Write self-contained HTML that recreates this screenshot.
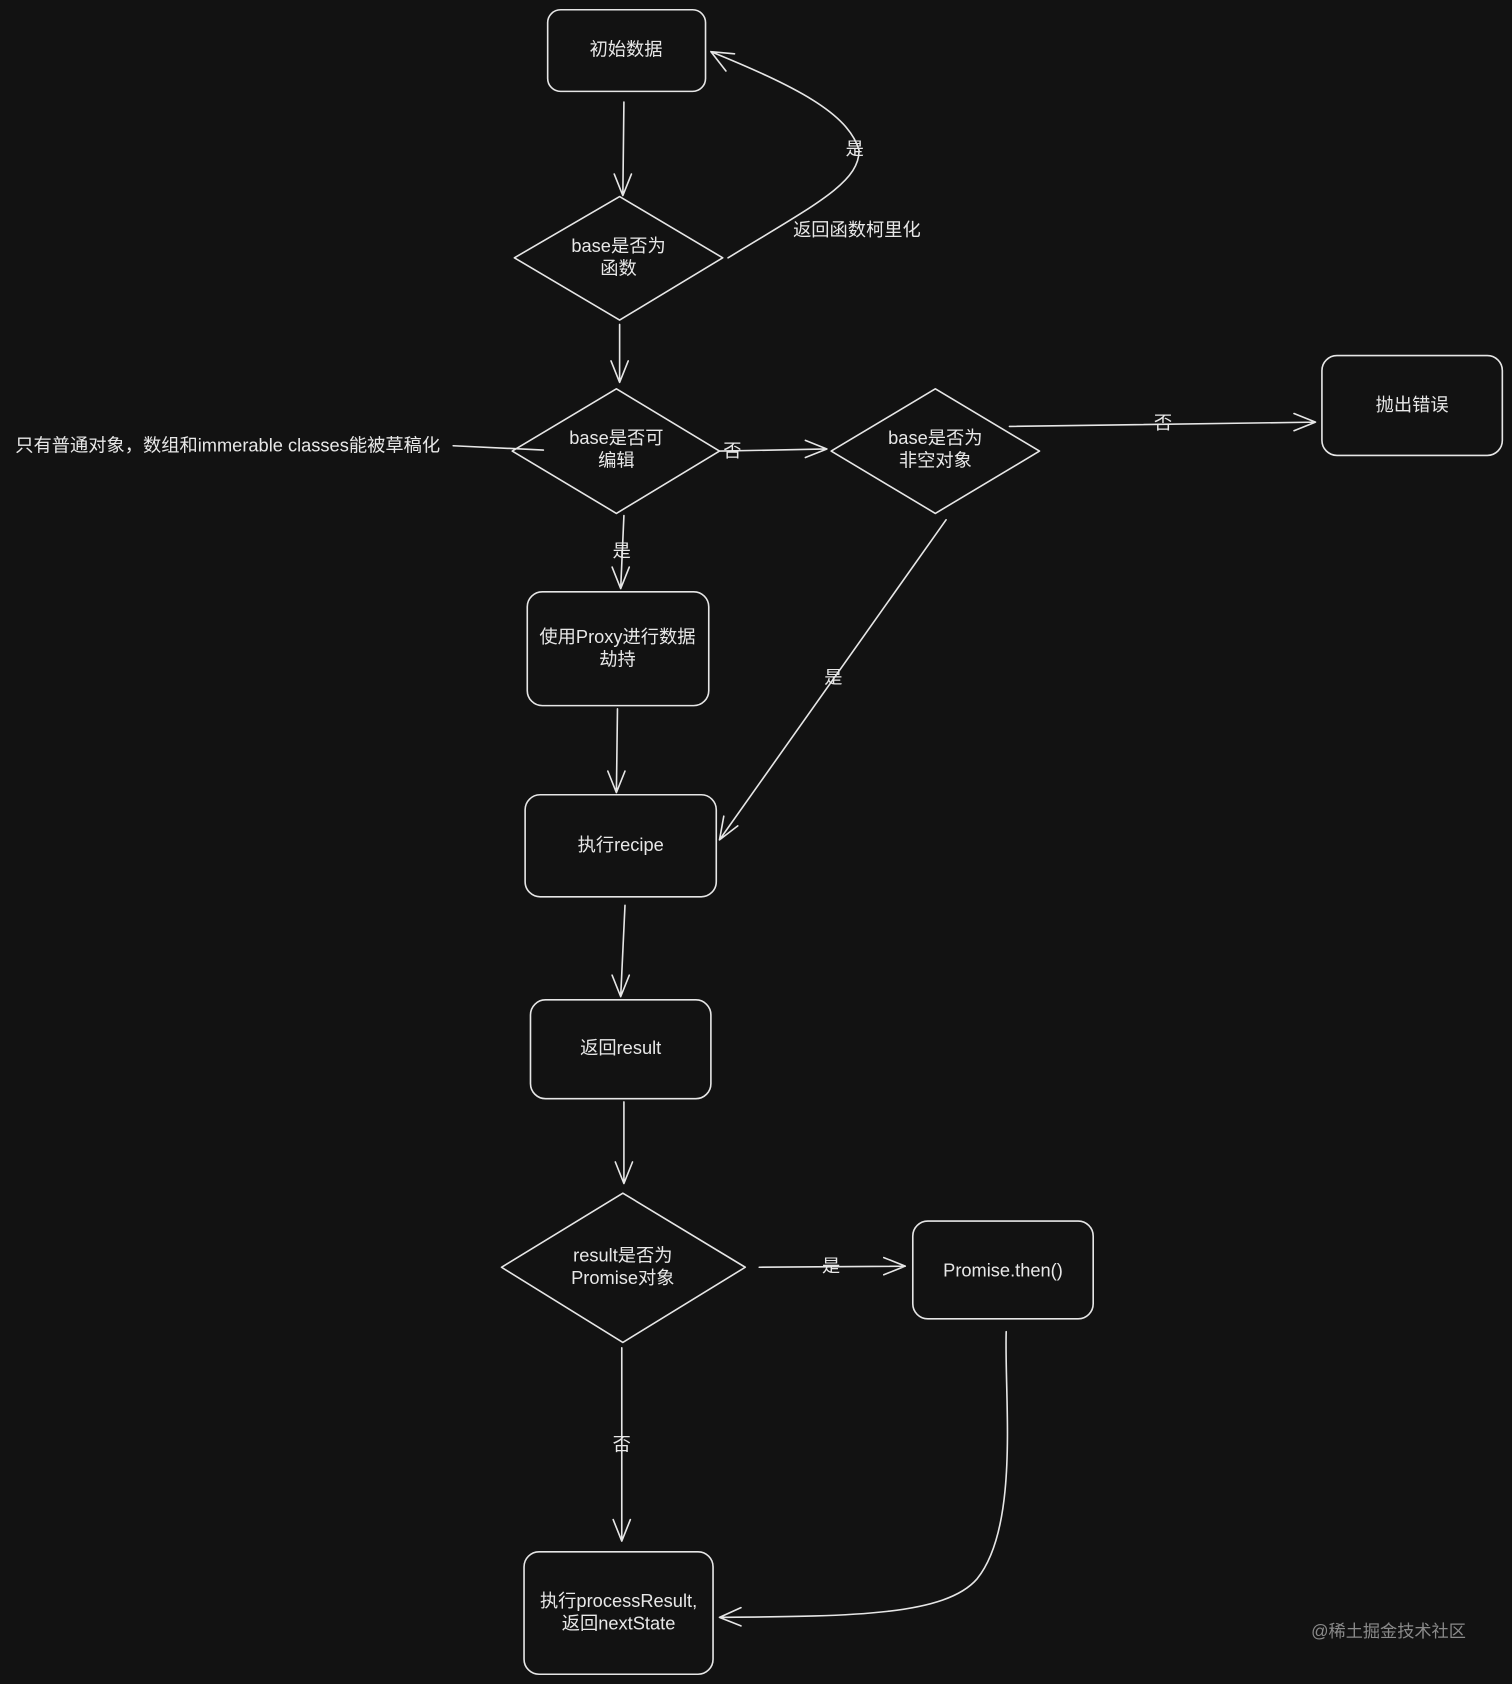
<!DOCTYPE html>
<html><head><meta charset="utf-8"><style>
html,body{margin:0;padding:0;background:#121212;}
svg{display:block}
text{font-family:"Liberation Sans","Noto Sans CJK SC",sans-serif;fill:#e8e8e8;font-size:17px;text-anchor:middle;dominant-baseline:middle}
</style></head><body>
<svg width="1512" height="1684" viewBox="0 0 1408 1568" xmlns="http://www.w3.org/2000/svg">
<rect width="1408" height="1568" fill="#121212"/>
<g fill="none" stroke="#e6e6e6" stroke-width="1.5" stroke-linejoin="round" stroke-linecap="round">
<rect x="510" y="9" width="147" height="76" rx="12"/>
<path d="M577 183 L673 240 L577 298 L479 240 Z"/>
<path d="M574 362 L670 420 L574 478 L477 420 Z"/>
<path d="M871 362 L968 420 L871 478 L774 420 Z"/>
<rect x="1231" y="331" width="168" height="93" rx="14"/>
<rect x="491" y="551" width="169" height="106" rx="14"/>
<rect x="489" y="740" width="178" height="95" rx="14"/>
<rect x="494" y="931" width="168" height="92" rx="14"/>
<path d="M580 1111 L694 1180 L580 1250 L467 1180 Z"/>
<rect x="850" y="1137" width="168" height="91" rx="14"/>
<rect x="488" y="1445" width="176" height="114" rx="14"/>
<!-- arrows -->
<path d="M581 95 L580 182 M572 162 L580 182 L588 162"/>
<path d="M678 240 C760 190 800 170 800 140 C790 105 740 80 662 48 M684 50 L662 48 L676 66"/>
<path d="M577 302 L577 356 M569 336 L577 356 L585 336"/>
<path d="M422 415 L506 419"/>
<path d="M670 420 L770 418 M750 410 L770 418 L750 426"/>
<path d="M940 397 L1225 393 M1205 385 L1225 393 L1205 401"/>
<path d="M581 480 L578 548 M570 528 L578 548 L586 528"/>
<path d="M881 484 L670 782 M674 760 L670 782 L687 769"/>
<path d="M575 660 L574 738 M566 718 L574 738 L582 718"/>
<path d="M582 843 L578 928 M570 908 L578 928 L586 908"/>
<path d="M581 1026 L581 1102 M573 1082 L581 1102 L589 1082"/>
<path d="M707 1180 L843 1179 M823 1171 L843 1179 L823 1187"/>
<path d="M579 1255 L579 1435 M571 1415 L579 1435 L587 1415"/>
<path d="M937 1240 C935 1300 950 1420 910 1470 C880 1505 790 1505 670 1506 M690 1497 L670 1506 L690 1514"/>
</g>
<text x="583" y="47">初始数据</text>
<text x="576" y="230">base是否为</text>
<text x="576" y="251">函数</text>
<text x="574" y="409">base是否可</text>
<text x="574" y="430">编辑</text>
<text x="871" y="409">base是否为</text>
<text x="871" y="430">非空对象</text>
<text x="1315" y="378">抛出错误</text>
<text x="575" y="594">使用Proxy进行数据</text>
<text x="575" y="615">劫持</text>
<text x="578" y="788">执行recipe</text>
<text x="578" y="977">返回result</text>
<text x="580" y="1170">result是否为</text>
<text x="580" y="1191">Promise对象</text>
<text x="934" y="1184">Promise.then()</text>
<text x="576" y="1492">执行processResult,</text>
<text x="576" y="1513">返回nextState</text>
<text x="212" y="416">只有普通对象，数组和immerable classes能被草稿化</text>
<text x="796" y="140">是</text>
<text x="798" y="215">返回函数柯里化</text>
<text x="682" y="421">否</text>
<text x="1083" y="395">否</text>
<text x="579" y="514">是</text>
<text x="776" y="632">是</text>
<text x="774" y="1180">是</text>
<text x="579" y="1346">否</text>
<text x="1293" y="1520" style="fill:#8a8a8a;font-size:16px">@稀土掘金技术社区</text>
</svg>
</body></html>
